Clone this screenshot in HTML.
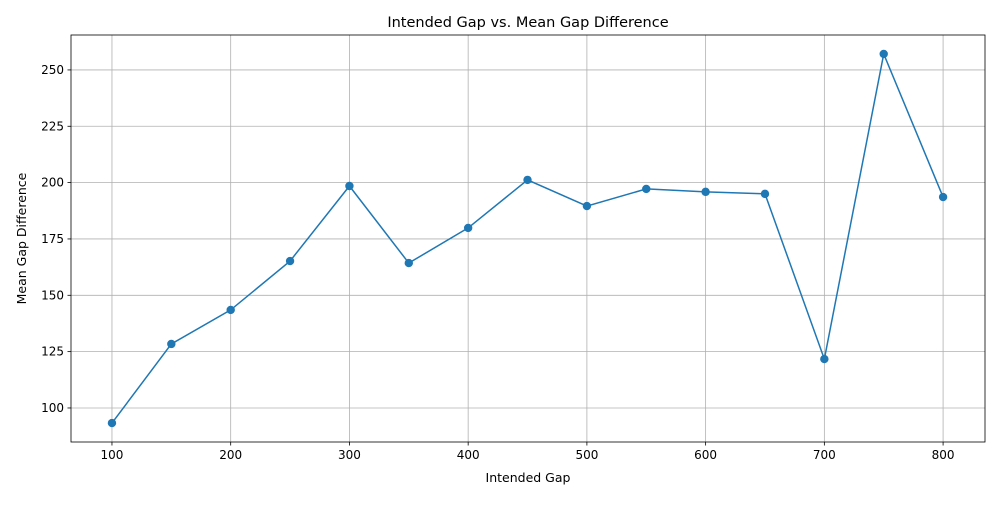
<!DOCTYPE html>
<html><head><meta charset="utf-8"><style>
body{margin:0;background:#fff;font-family:"Liberation Sans","DejaVu Sans",sans-serif;}
svg text{font-family:"DejaVu Sans","Liberation Sans",sans-serif;}
</style></head><body>
<svg id="chart" width="1000" height="500" xmlns="http://www.w3.org/2000/svg"></svg>
<script>
const categories = [100,150,200,250,300,350,400,450,500,550,600,650,700,750,800];
const values = [93.3,128.4,143.5,165.2,198.5,164.3,179.9,201.2,189.6,197.2,195.9,195.0,121.7,257.1,193.6];
const xTicks = [100,200,300,400,500,600,700,800];
const yTicks = [100,125,150,175,200,225,250];

const L=71,R=985,T=35,B=442;
const xMin=65.5,xMax=835.3,yMin=84.9,yMax=265.5;
const sx=v=>L+(v-xMin)/(xMax-xMin)*(R-L);
const sy=v=>B-(v-yMin)/(yMax-yMin)*(B-T);
const svg=document.getElementById('chart');
const NS='http://www.w3.org/2000/svg';
function mk(tag,attrs,parent){const e=document.createElementNS(NS,tag);for(const k in attrs)e.setAttribute(k,attrs[k]);(parent||svg).appendChild(e);return e;}

const grid=mk('g',{});


xTicks.forEach(t=>{
  const x=sx(t);
  const l=mk('line',{x1:x,x2:x,y1:T,y2:B,stroke:'#b0b0b0','stroke-width':0.8},grid);
  
  
  mk('line',{x1:x,x2:x,y1:B,y2:B+3.5,stroke:'#000','stroke-width':0.8});
  const tx=mk('text',{x:x,y:B+17,'text-anchor':'middle','font-size':12,fill:'#000'});
  tx.textContent=t;
  
  
});
yTicks.forEach(t=>{
  const y=sy(t);
  const l=mk('line',{x1:L,x2:R,y1:y,y2:y,stroke:'#b0b0b0','stroke-width':0.8},grid);
  
  
  mk('line',{x1:L-3.5,x2:L,y1:y,y2:y,stroke:'#000','stroke-width':0.8});
  const tx=mk('text',{x:L-7,y:y+4,'text-anchor':'end','font-size':12,fill:'#000'});
  tx.textContent=t;
  
  
});
const frame=mk('rect',{x:L,y:T,width:R-L,height:B-T,fill:'none',stroke:'#000','stroke-width':0.8});



const pts=categories.map((c,i)=>sx(c)+','+sy(values[i])).join(' ');
const line=mk('polyline',{points:pts,fill:'none',stroke:'#1f77b4','stroke-width':1.5});


categories.forEach((c,i)=>{
  const p=mk('circle',{cx:sx(c),cy:sy(values[i]),r:4.2,fill:'#1f77b4'});
  
  
});

const title=mk('text',{x:(L+R)/2,y:27,'text-anchor':'middle','font-size':14.5,fill:'#000'});
title.textContent='Intended Gap vs. Mean Gap Difference';


const xl=mk('text',{x:(L+R)/2,y:482,'text-anchor':'middle','font-size':12.5,fill:'#000'});
xl.textContent='Intended Gap';


const yl=mk('text',{x:0,y:0,'text-anchor':'middle','font-size':12.5,fill:'#000',transform:'translate(26,'+((T+B)/2)+') rotate(-90)'});
yl.textContent='Mean Gap Difference';


</script>
</body></html>
